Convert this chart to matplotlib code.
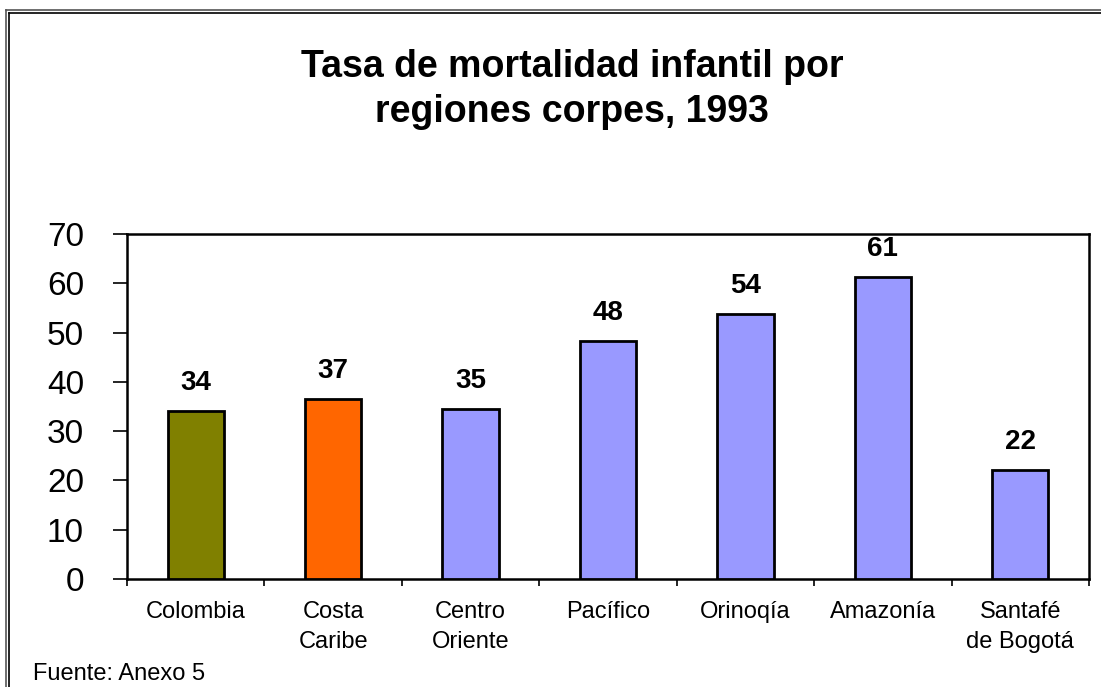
import matplotlib.pyplot as plt
from matplotlib.lines import Line2D

plt.rcParams['font.family'] = ['Liberation Sans', 'DejaVu Sans']

# data
regiones = ['Colombia', 'Costa\nCaribe', 'Centro\nOriente', 'Pacífico',
            'Orinoqía', 'Amazonía', 'Santafé\nde Bogotá']
tasas = [34.0, 36.5, 34.5, 48.3, 53.7, 61.2, 22.1]
etiquetas = ['34', '37', '35', '48', '54', '61', '22']
colores = ['#808000', '#FF6600', '#9999FF', '#9999FF', '#9999FF', '#9999FF', '#9999FF']

W, H = 1101, 687
fig = plt.figure(figsize=(W / 100, H / 100), dpi=100)
ax = fig.add_axes([127 / W, 1 - 579 / H, (1089 - 127) / W, (579 - 234) / H])

x = list(range(len(regiones)))
ax.bar(x, tasas, width=0.41, color=colores, edgecolor='black', linewidth=2, zorder=3)

for xi, v, lab in zip(x, tasas, etiquetas):
    ax.annotate(lab, (xi, v), xytext=(0, 21), textcoords='offset pixels',
                ha='center', va='baseline', fontsize=20, fontweight='bold')

ax.set_xlim(-0.5, len(regiones) - 0.5)
ax.set_ylim(0, 70)
ax.set_yticks(range(0, 71, 10))
ax.tick_params(axis='y', labelsize=24, length=10, width=1.2, direction='out', pad=21)

# x ticks between categories, labels centred under bars
ax.set_xticks([i - 0.5 for i in range(len(regiones) + 1)])
ax.set_xticklabels([])
ax.set_xticks(x, minor=True)
ax.set_xticklabels(regiones, minor=True, fontsize=17, linespacing=1.45, va='top')
ax.tick_params(axis='x', which='major', length=5, width=1.2, direction='out')
ax.tick_params(axis='x', which='minor', length=0, pad=16)

for s in ax.spines.values():
    s.set_linewidth(1.8)

fig.text(572 / W, 1 - 77 / H, 'Tasa de mortalidad infantil por',
         ha='center', va='baseline', fontsize=27, fontweight='bold')
fig.text(572 / W, 1 - 122 / H, 'regiones corpes, 1993',
         ha='center', va='baseline', fontsize=27, fontweight='bold')
fig.text(33 / W, 1 - 680 / H, 'Fuente: Anexo 5', ha='left', va='baseline', fontsize=17)

# double border (left and top visible)
for off, col in ((6, '#555555'), (9, 'black')):
    fig.add_artist(Line2D([off / W, off / W], [0, 1 - (off + 3.5) / H], transform=fig.transFigure,
                          color=col, linewidth=1.2))
    fig.add_artist(Line2D([off / W, 1], [1 - (off + 3.5) / H, 1 - (off + 3.5) / H],
                          transform=fig.transFigure, color=col, linewidth=1.2))

fig.savefig('out.png', dpi=100)
